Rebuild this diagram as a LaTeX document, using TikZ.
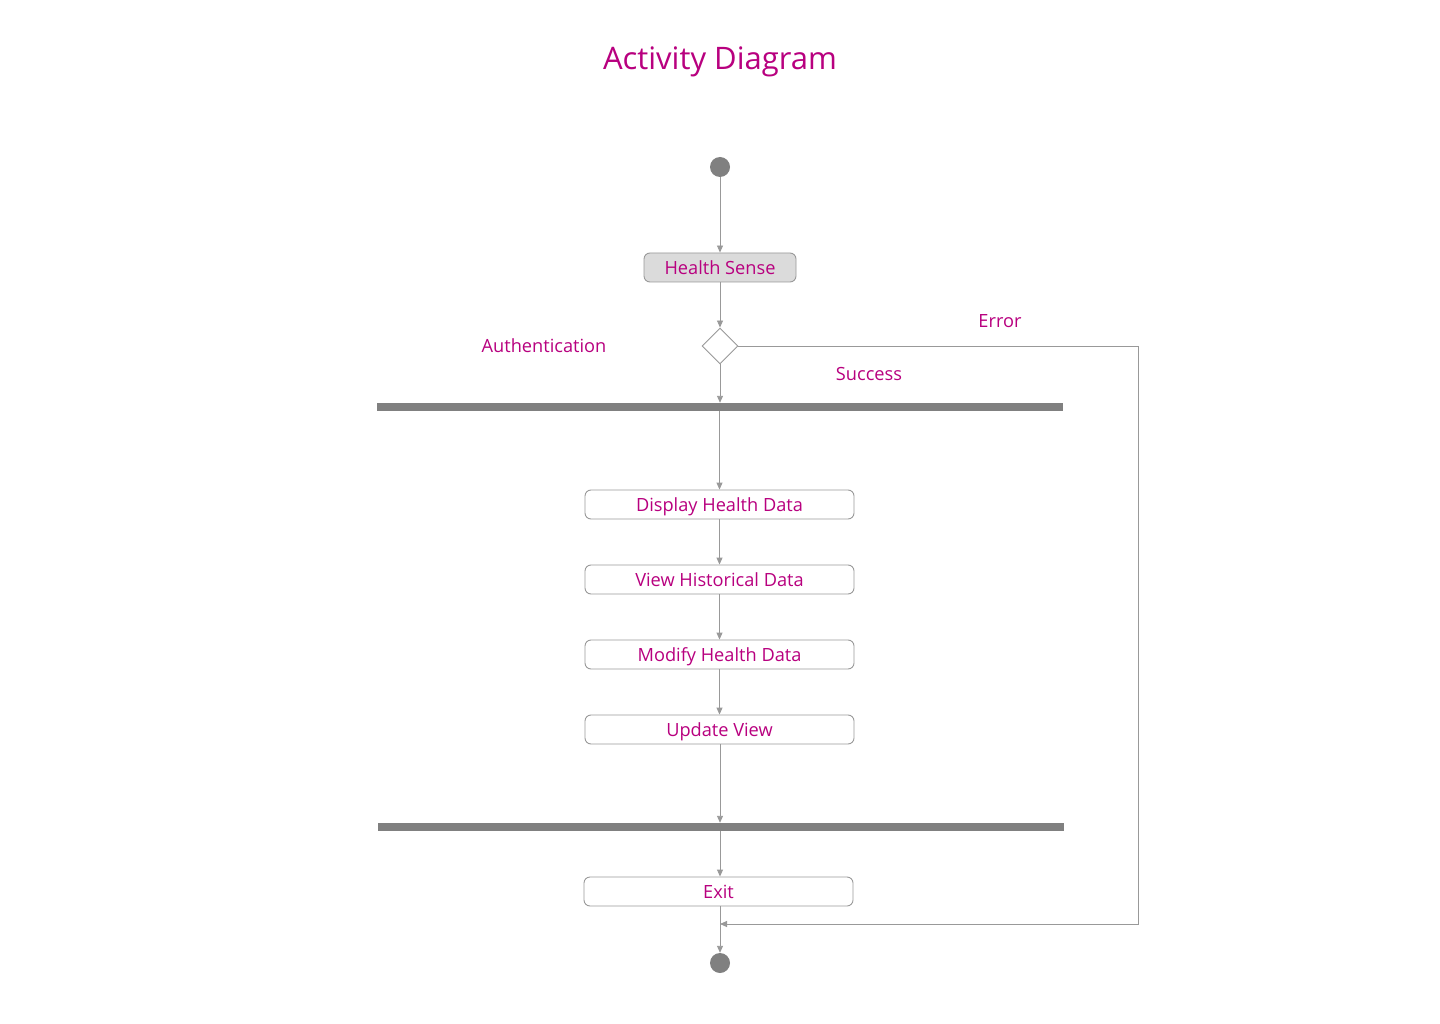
\documentclass[tikz,border=0pt]{standalone}
\usepackage{fontspec}
\setmainfont{Open Sans}
\usetikzlibrary{arrows.meta,shapes.geometric}
\definecolor{txt}{HTML}{B8007F}
\definecolor{ln}{HTML}{999999}
\definecolor{barc}{HTML}{808080}
\tikzset{
  lbl/.style={text=txt,font=\fontsize{18.2}{20}\selectfont,inner sep=0pt,text height=1.38em,text depth=0pt},
  act/.style={draw=ln,line width=0.9pt,rounded corners=6pt,minimum width=269pt,minimum height=29pt,inner sep=0pt,text=txt,font=\fontsize{18.2}{20}\selectfont,text height=1.38em,text depth=0pt},
  bar/.style={fill=barc,minimum width=686pt,minimum height=8pt,inner sep=0pt},
  dot/.style={circle,fill=barc,minimum size=20pt,inner sep=0pt},
  flow/.style={draw=ln,line width=0.9pt,-{Triangle[length=7pt,width=6pt]}},
  plain/.style={draw=ln,line width=0.9pt}
}
\begin{document}
\begin{tikzpicture}[x=1pt,y=-1pt]
\useasboundingbox[fill=white] (0,0) rectangle (1440,1024);
\node[text=txt,font=\fontsize{31}{34}\selectfont,inner sep=0pt,text height=1.43em,text depth=0pt] (title) at (720,62) {Activity Diagram};
\node[dot] (start) at (720,167) {};
\node[act,fill=black!14,minimum width=152pt] (hs) at (720,267.5) {Health Sense};
\node[diamond,draw=ln,line width=0.9pt,minimum width=36pt,minimum height=36pt,inner sep=0pt,fill=white] (dec) at (720,346) {};
\node[bar] (b1) at (720,407) {};
\node[act] (d1) at (719.5,504.5) {Display Health Data};
\node[act] (d2) at (719.5,579.5) {View Historical Data};
\node[act] (d3) at (719.5,654.5) {Modify Health Data};
\node[act] (d4) at (719.5,729.5) {Update View};
\node[bar] (b2) at (721,827) {};
\node[act] (ex) at (718.5,891.5) {Exit};
\node[dot] (end) at (720,963) {};
\coordinate (join) at (720,924);
\coordinate (corner) at (1138,346);
\node[lbl] (lerr) at (1000,321) {Error};
\node[lbl] (lauth) at (544,346) {Authentication};
\node[lbl] (lsucc) at (869,374) {Success};
\draw[flow] (start) -- (hs);
\draw[flow] (hs) -- (dec);
\draw[flow] (dec) -- (dec |- b1.north);
\draw[flow] (b1.south -| d1) -- (d1);
\draw[flow] (d1) -- (d2);
\draw[flow] (d2) -- (d3);
\draw[flow] (d3) -- (d4);
\draw[flow] (d4.south -| 720,0) -- (b2.north -| 720,0);
\draw[flow] (b2.south -| 720,0) -- (ex.north -| 720,0);
\draw[flow] (ex.south -| 720,0) -- (end);
\draw[flow] (dec.east) -- (corner) |- (join);
\end{tikzpicture}
\end{document}
